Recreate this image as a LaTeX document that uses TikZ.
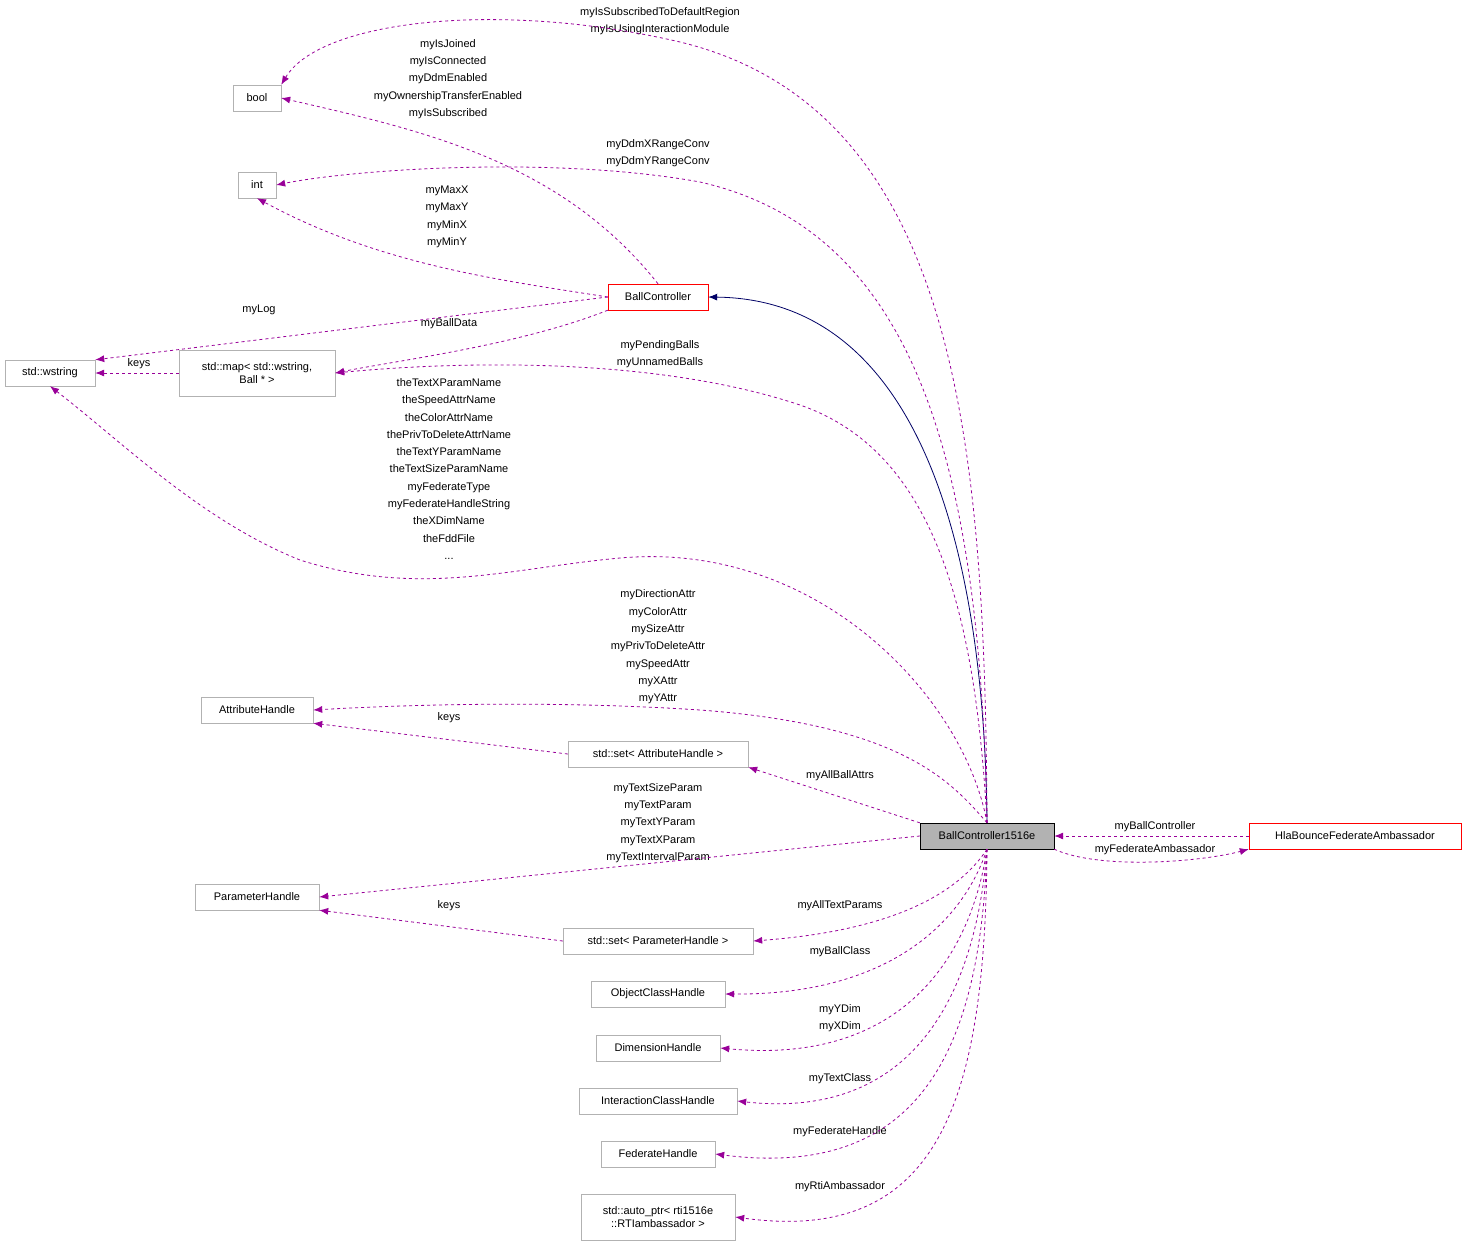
\documentclass[tikz,border=0pt]{standalone}
\usepackage{fontspec}
\setmainfont{Liberation Sans}
\usetikzlibrary{arrows.meta}

\tikzset{
  cls/.style={shape=rectangle,draw=black!30,align=center,minimum height=26pt,inner sep=2pt,font=\fontsize{11}{13}\selectfont},
  lbl/.style={align=center,inner sep=0pt,font=\fontsize{11}{17.3}\selectfont},
  dep/.style={draw=violet!80!magenta,dashed,line width=0.8pt,-{Latex[length=9pt,width=7pt]}},
  inh/.style={draw=blue!40!black,line width=0.8pt,-{Latex[length=9pt,width=7pt]}}
}

\begin{document}
\begin{tikzpicture}[x=1pt,y=-1pt]
\useasboundingbox (0,0) rectangle (1467,1245);
\fill[white] (0,0) rectangle (1467,1245);

\node[cls,minimum width=48pt] (bool) at (257,98) {bool};
\node[cls,minimum width=38pt] (int) at (257,185) {int};
\node[cls,minimum width=90pt] (wstring) at (50,373) {std::wstring};
\node[cls,minimum width=156pt,minimum height=46pt] (map) at (257,373) {std::map< std::wstring,\\ Ball * >};
\node[cls,draw=red,minimum width=100pt] (bc) at (658,297) {BallController};
\node[cls,minimum width=112pt] (attr) at (257,710) {AttributeHandle};
\node[cls,minimum width=180pt] (setattr) at (658,754) {std::set< AttributeHandle >};
\node[cls,draw=black,fill=black!30,minimum width=134pt] (ballc) at (987,836) {BallController1516e};
\node[cls,draw=red,minimum width=212pt] (hla) at (1355,836) {HlaBounceFederateAmbassador};
\node[cls,minimum width=124pt] (param) at (257,897) {ParameterHandle};
\node[cls,minimum width=190pt] (setparam) at (658,941) {std::set< ParameterHandle >};
\node[cls,minimum width=134pt] (objcls) at (658,994) {ObjectClassHandle};
\node[cls,minimum width=124pt] (dim) at (658,1048) {DimensionHandle};
\node[cls,minimum width=158pt] (intcls) at (658,1101) {InteractionClassHandle};
\node[cls,minimum width=114pt] (fed) at (658,1154) {FederateHandle};
\node[cls,minimum width=154pt,minimum height=46pt] (rti) at (658,1217) {std::auto\_ptr< rti1516e\\ ::RTIambassador >};

% labels
\node[lbl] (l1) at (660,21) {myIsSubscribedToDefaultRegion\\myIsUsingInteractionModule};
\node[lbl] (l2) at (448,79) {myIsJoined\\myIsConnected\\myDdmEnabled\\myOwnershipTransferEnabled\\myIsSubscribed};
\node[lbl] (l3) at (658,153) {myDdmXRangeConv\\myDdmYRangeConv};
\node[lbl] (l4) at (447,217) {myMaxX\\myMaxY\\myMinX\\myMinY};
\node[lbl] (l5) at (259,310) {myLog};
\node[lbl] (l6) at (449,324) {myBallData};
\node[lbl] (l7) at (139,364) {keys};
\node[lbl] (l8) at (660,354) {myPendingBalls\\myUnnamedBalls};
\node[lbl] (l9) at (449,469) {theTextXParamName\\theSpeedAttrName\\theColorAttrName\\thePrivToDeleteAttrName\\theTextYParamName\\theTextSizeParamName\\myFederateType\\myFederateHandleString\\theXDimName\\theFddFile\\...};
\node[lbl] (l11) at (658,647) {myDirectionAttr\\myColorAttr\\mySizeAttr\\myPrivToDeleteAttr\\mySpeedAttr\\myXAttr\\myYAttr};
\node[lbl] (l12) at (449,718) {keys};
\node[lbl] (l13) at (840,776) {myAllBallAttrs};
\node[lbl] (l14) at (658,823) {myTextSizeParam\\myTextParam\\myTextYParam\\myTextXParam\\myTextIntervalParam};
\node[lbl] (l15) at (449,906) {keys};
\node[lbl] (l16) at (840,906) {myAllTextParams};
\node[lbl] (l17) at (840,952) {myBallClass};
\node[lbl] (l18) at (840,1018) {myYDim\\myXDim};
\node[lbl] (l19) at (840,1079) {myTextClass};
\node[lbl] (l20) at (840,1132) {myFederateHandle};
\node[lbl] (l21) at (840,1187) {myRtiAmbassador};
\node[lbl] (l22) at (1155,827) {myBallController};
\node[lbl] (l23) at (1155,850) {myFederateAmbassador};

% connectors
\path[inh] (ballc.north) .. controls (985,600) and (940,300) .. (bc.east);
\path[dep] (ballc.north) .. controls (985,450) and (960,110) .. (680,42) .. controls (500,0) and (320,20) .. (bool.north east);
\path[dep] (bc.north) .. controls (560,160) and (420,130) .. (bool.east);
\path[dep] (ballc.north) .. controls (980,450) and (910,230) .. (700,182) .. controls (550,155) and (350,170) .. (int.east);
\path[dep] (bc.west) .. controls (500,280) and (380,265) .. (int.south);
\path[dep] (bc.west) -- (wstring.north east);
\path[dep] (bc.south west) .. controls (520,345) and (400,360) .. (map.east);
\path[dep] (map.west) -- (wstring.east);
\path[dep] (ballc.north) .. controls (975,600) and (930,450) .. (800,405) .. controls (650,355) and (450,362) .. (map.east);
\path[dep] (ballc.north) .. controls (965,700) and (820,540) .. (620,558) .. controls (510,568) and (420,598) .. (300,560) .. controls (200,520) and (120,440) .. (wstring.south);
\path[dep] (ballc.north) .. controls (950,780) and (900,725) .. (700,710) .. controls (550,700) and (400,705) .. (attr.east);
\path[dep] (setattr.west) -- (attr.south east);
\path[dep] (ballc.north west) -- (setattr.south east);
\path[dep] (ballc.west) -- (param.east);
\path[dep] (setparam.west) -- (param.south east);
\path[dep] (ballc.south) .. controls (960,890) and (900,930) .. (setparam.east);
\path[dep] (ballc.south) .. controls (960,930) and (880,995) .. (objcls.east);
\path[dep] (ballc.south) .. controls (970,960) and (900,1065) .. (dim.east);
\path[dep] (ballc.south) .. controls (975,1000) and (910,1120) .. (intcls.east);
\path[dep] (ballc.south) .. controls (980,1050) and (920,1180) .. (fed.east);
\path[dep] (ballc.south) .. controls (985,1100) and (940,1245) .. (rti.east);
\path[dep] (hla.west) -- (ballc.east);
\path[dep] (ballc.south east) .. controls (1100,870) and (1200,862) .. (hla.south west);
\end{tikzpicture}
\end{document}
